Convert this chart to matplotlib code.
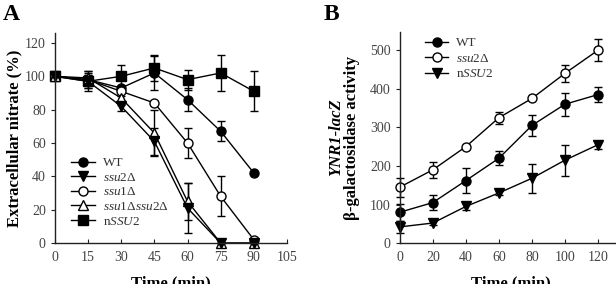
import matplotlib
matplotlib.use("Agg")
import matplotlib.pyplot as plt
from matplotlib.lines import Line2D

plt.rcParams['font.family'] = ['Liberation Serif', 'DejaVu Serif']
plt.rcParams['mathtext.fontset'] = 'custom'
plt.rcParams['mathtext.rm'] = 'Liberation Serif'
plt.rcParams['mathtext.it'] = 'Liberation Serif:italic'

# ---- panel A data ----
time_a = [0, 15, 30, 45, 60, 75, 90]
wt_a = [100, 98, 93, 102, 86, 67, 42]
wt_a_err = [0, 5, 0, 10, 7, 6, 0]
ssu2_a = [100, 97, 82, 61, 21, 0, 0]
ssu2_a_err = [0, 4, 3, 8, 15, 0, 0]
ssu1_a = [100, 98, 91, 84, 60, 28, 2]
ssu1_a_err = [0, 3, 3, 0, 9, 12, 0]
dbl_a = [100, 99, 87, 66, 25, 0, 0]
dbl_a_err = [0, 3, 4, 14, 11, 0, 0]
nssu2_a = [100, 97, 100, 105, 98, 102, 91]
nssu2_a_err = [0, 6, 7, 8, 6, 11, 12]

# ---- panel B data ----
time_b = [0, 20, 40, 60, 80, 100, 120]
wt_b = [80, 105, 162, 220, 305, 360, 385]
wt_b_err = [22, 20, 32, 18, 28, 30, 20]
ssu2_b = [145, 190, 250, 325, 375, 440, 500]
ssu2_b_err = [25, 20, 5, 15, 5, 22, 28]
nssu2_b = [42, 52, 95, 130, 168, 215, 255]
nssu2_b_err = [15, 5, 8, 5, 37, 40, 10]

tick_col = '#444444'
MS = 6.5


def style(ax):
    for s in ['top', 'right']:
        ax.spines[s].set_visible(False)
    for s in ['left', 'bottom']:
        ax.spines[s].set_color('#222222')
        ax.spines[s].set_linewidth(1.0)
    ax.tick_params(axis='y', direction='out', length=3, colors='#222222',
                   labelcolor=tick_col, labelsize=10)
    ax.tick_params(axis='x', direction='in', length=3, colors='#222222',
                   labelcolor=tick_col, labelsize=10, pad=6)


def series(ax, x, y, err, marker, filled, label):
    ax.errorbar(x, y, yerr=err, color='black', lw=1.0, elinewidth=1.0,
                capsize=3, capthick=1.0, marker=marker, markersize=MS,
                markerfacecolor='black' if filled else 'white',
                markeredgecolor='black', markeredgewidth=1.0,
                clip_on=False)
    return Line2D([], [], color='black', lw=1.0, marker=marker,
                  markersize=MS, markerfacecolor='black' if filled else 'white',
                  markeredgecolor='black', markeredgewidth=1.0, label=label)


fig = plt.figure(figsize=(6.16, 2.84), dpi=100)

# ---------------- A ----------------
axA = fig.add_axes([0.089, 0.144, 0.377, 0.740])
hN = series(axA, time_a, nssu2_a, nssu2_a_err, 's', True, 'n$\\mathit{SSU2}$')
hW = series(axA, time_a, wt_a, wt_a_err, 'o', True, 'WT')
h1 = series(axA, time_a, ssu1_a, ssu1_a_err, 'o', False, '$\\mathit{ssu1}$\u0394')
hD = series(axA, time_a, dbl_a, dbl_a_err, '^', False,
            '$\\mathit{ssu1}$\u0394$\\mathit{ssu2}$\u0394')
h2 = series(axA, time_a, ssu2_a, ssu2_a_err, 'v', True, '$\\mathit{ssu2}$\u0394')
axA.set_xlim(0, 105)
axA.set_ylim(0, 126)
axA.set_xticks(range(0, 106, 15))
axA.set_yticks(range(0, 121, 20))
style(axA)
axA.set_ylabel('Extracellular nitrate (%)', fontsize=12, fontweight='bold',
               labelpad=2)
axA.set_xlabel('Time (min)', fontsize=12, fontweight='bold', labelpad=8)
axA.legend(handles=[hW, h2, h1, hD, hN], loc='lower left',
           bbox_to_anchor=(0.03, 0.03), frameon=False, fontsize=9.5,
           handlelength=1.8, handletextpad=0.6, labelspacing=0.18,
           labelcolor='#333333', borderpad=0.2)
fig.text(0.005, 0.985, 'A', fontsize=17, fontweight='bold', va='top')

# ---------------- B ----------------
axB = fig.add_axes([0.649, 0.144, 0.362, 0.743])
bW = series(axB, time_b, wt_b, wt_b_err, 'o', True, 'WT')
bS = series(axB, time_b, ssu2_b, ssu2_b_err, 'o', False, '$\\mathit{ssu2}$\u0394')
bN = series(axB, time_b, nssu2_b, nssu2_b_err, 'v', True, 'n$\\mathit{SSU2}$')
axB.set_xlim(0, 135)
axB.set_ylim(0, 547)
axB.set_xticks(range(0, 121, 20))
axB.set_yticks(range(0, 501, 100))
style(axB)
axB.set_xlabel('Time (min)', fontsize=12, fontweight='bold', labelpad=8)
axB.text(-0.285, 0.5, 'YNR1-lacZ', transform=axB.transAxes, rotation=90,
         ha='center', va='center', fontsize=12, fontweight='bold',
         fontstyle='italic')
axB.text(-0.215, 0.5, '\u03b2-galactosidase activity', transform=axB.transAxes,
         rotation=90, ha='center', va='center', fontsize=12,
         fontweight='bold')
axB.legend(handles=[bW, bS, bN], loc='upper left', bbox_to_anchor=(0.07, 1.02),
           frameon=False, fontsize=9.5, handlelength=1.8, handletextpad=0.6,
           labelspacing=0.25, labelcolor='#333333', borderpad=0.2)
fig.text(0.525, 0.985, 'B', fontsize=17, fontweight='bold', va='top')

fig.savefig('out.png', dpi=100)
